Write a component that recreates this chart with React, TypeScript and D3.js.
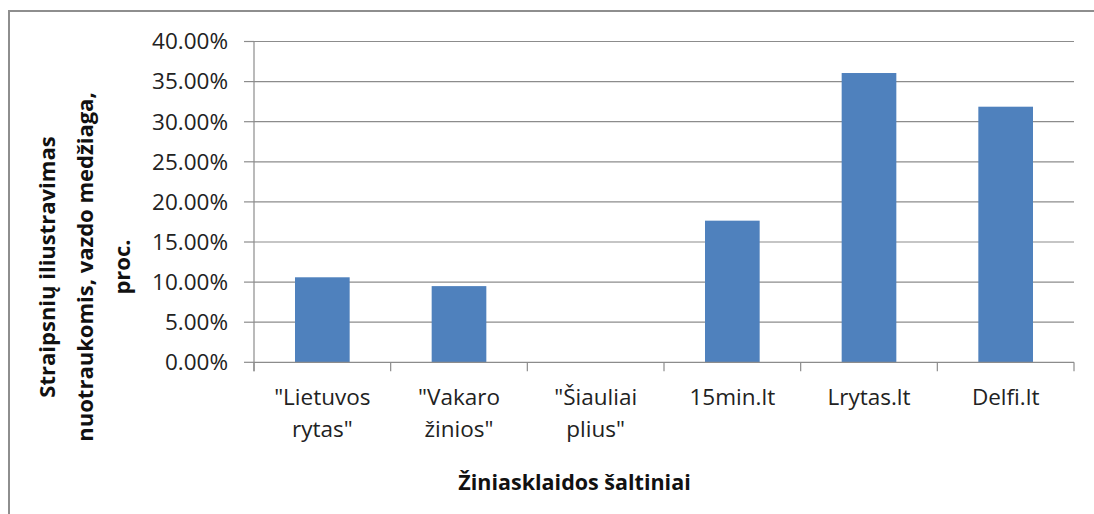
import React from "react";
import * as d3 from "d3";

const categories: string[][] = [
  ['"Lietuvos', 'rytas"'],
  ['"Vakaro', 'žinios"'],
  ['"Šiauliai', 'plius"'],
  ["15min.lt"],
  ["Lrytas.lt"],
  ["Delfi.lt"],
];
const values: number[] = [0.106, 0.095, 0, 0.1766, 0.3607, 0.3187];
const yTicks: number[] = [0, 0.05, 0.1, 0.15, 0.2, 0.25, 0.3, 0.35, 0.4];
const yTitleLines: string[] = ["Straipsnių iliustravimas", "nuotraukomis, vazdo medžiaga,", "proc."];
const xTitle = "Žiniasklaidos šaltiniai";

const W = 1094;
const H = 514;
const FONT = "'Open Sans', sans-serif";

export default function App() {
  const left = 254, right = 1074, top = 41.5, bottom = 362.3;
  const idx = categories.map((_, i) => String(i));
  const x = d3.scaleBand<string>().domain(idx).range([left, right]).paddingInner(0.6).paddingOuter(0.3);
  const xb = d3.scaleBand<string>().domain(idx).range([left, right]).padding(0);
  const y = d3.scaleLinear().domain([0, 0.4]).range([bottom, top]);
  const fmt = d3.format(".2%");
  const grid = "#8c8c8c";
  const boundaries = [...idx.map((k) => xb(k)!), right];

  return (
    <svg width={W} height={H} style={{ position: "absolute", left: 0, top: 0, background: "#fff" }}>
      <rect x={9} y={11} width={W + 20} height={H + 20} fill="#fff" stroke="#8e8e8e" strokeWidth={2} />
      {yTicks.map((t) => (
        <g key={t}>
          {t > 0 && <line x1={left} x2={right} y1={y(t)} y2={y(t)} stroke={grid} strokeWidth={1.2} />}
          <line x1={left - 10} x2={left} y1={y(t)} y2={y(t)} stroke={grid} strokeWidth={1.2} />
          <text x={228} y={y(t)} dy="0.35em" textAnchor="end" fontFamily={FONT} fontSize={22.5} fill="#222">
            {fmt(t)}
          </text>
        </g>
      ))}
      {values.map((v, i) =>
        v > 0 ? (
          <rect key={i} x={x(String(i))} y={y(v)} width={x.bandwidth()} height={bottom - y(v)} fill="#4f81bd" />
        ) : null
      )}
      <line x1={left} x2={left} y1={top} y2={bottom + 9} stroke={grid} strokeWidth={1.2} />
      <line x1={left} x2={right} y1={bottom} y2={bottom} stroke={grid} strokeWidth={1.2} />
      {boundaries.map((b, i) => (
        <line key={i} x1={b} x2={b} y1={bottom} y2={bottom + 9} stroke={grid} strokeWidth={1.2} />
      ))}
      {categories.map((lines, i) => (
        <text key={i} textAnchor="middle" fontFamily={FONT} fontSize={22.5} fill="#222">
          {lines.map((l, j) => (
            <tspan key={j} x={xb(String(i))! + xb.bandwidth() / 2} y={405 + j * 31.5}>
              {l}
            </tspan>
          ))}
        </text>
      ))}
      <text x={574.5} y={490} textAnchor="middle" fontFamily={FONT} fontSize={21.5} fontWeight="bold" fill="#111">
        {xTitle}
      </text>
      {yTitleLines.map((l, j) => (
        <text
          key={j}
          transform={`translate(${55 + j * 37.5},267) rotate(-90)`}
          textAnchor="middle"
          fontFamily={FONT}
          fontSize={22}
          fontWeight="bold"
          fill="#111"
        >
          {l}
        </text>
      ))}
    </svg>
  );
}
